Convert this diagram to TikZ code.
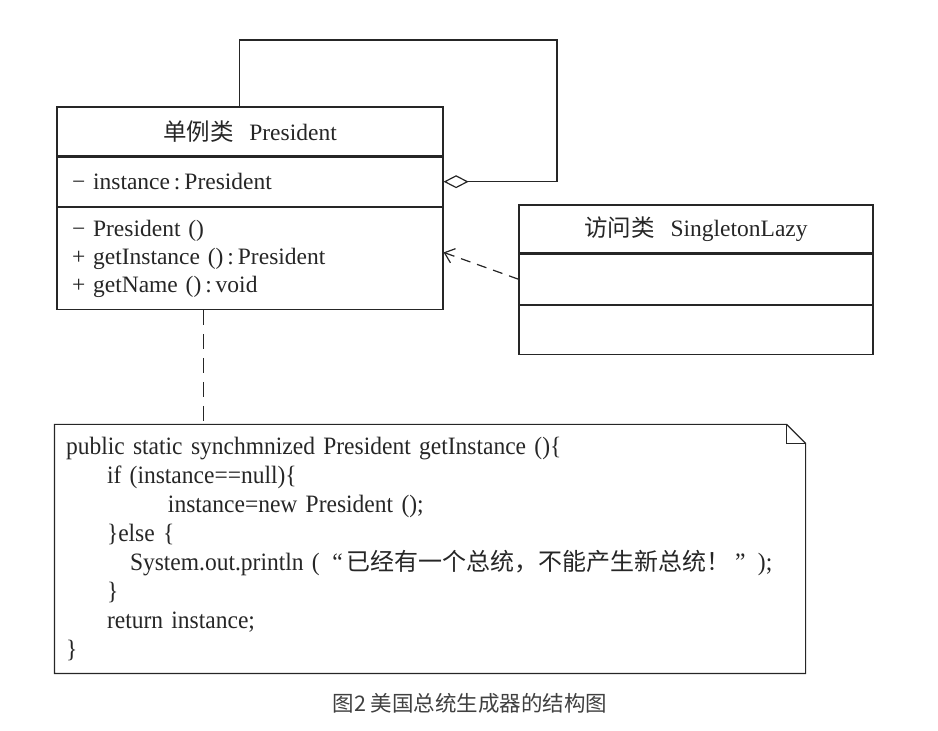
\documentclass[tikz,border=0pt]{standalone}
\usepackage{fontspec}
\setmainfont{Liberation Serif}
\newfontfamily\cjk{Noto Sans CJK SC}
\newfontfamily\codefont{Liberation Serif}[FakeStretch=0.94]
\usetikzlibrary{positioning,arrows.meta}

\begin{document}
\begin{tikzpicture}[x=1pt, y=1pt, line width=1.2pt, color=black!85,
    classpart/.style={draw, inner xsep=15pt, inner ysep=0pt, font=\fontsize{23.5}{28}\selectfont},
    pclass/.style={classpart, text width=356pt, minimum height=#1},
    sclass/.style={classpart, text width=324pt, minimum height=#1},
    depend/.style={dash pattern=on 10pt off 7pt, -{Straight Barb[length=9pt, width=15pt, line width=1.2pt]}},
    notelink/.style={dash pattern=on 15pt off 9pt},
    aggr/.style={-{Diamond[open, length=25pt, width=13pt, line width=1.2pt]}}]
  \useasboundingbox (0,0) rectangle (938,731);

  % singleton class
  \node[pclass=49pt, align=center] at (250,599.5) (pname) {{\cjk 单例类}\ \ President};
  \node[pclass=49pt, align=left, below=0pt of pname] (pattr) {− instance\,:\,President};
  \node[pclass=102pt, align=left, below=0pt of pattr] (pops) {− President ()\\+ getInstance ()\,:\,President\\+ getName ()\,:\,void};

  % access class
  \node[sclass=48pt, align=center] at (696,502) (sname) {{\cjk 访问类}\ \ SingletonLazy};
  \node[sclass=50pt, below=0pt of sname] (sattr) {};
  \node[sclass=49pt, below=0pt of sattr] (sops) {};

  % code note
  \node[inner xsep=11pt, inner ysep=0pt, text width=728pt, minimum height=248pt, align=left,
        font=\codefont\fontsize{25}{29}\selectfont] at (430,182) (note)
    {public static synchmnized President getInstance ()\{\\
     \hspace*{41pt}if (instance==null)\{\\
     \hspace*{102pt}instance=new President ();\\
     \hspace*{41pt}\}else \{\\
     \hspace*{64pt}System.out.println ( \,“\,{\cjk\fontsize{24}{29}\selectfont 已经有一个总统，不能产生新总统！}\,” \,);\\
     \hspace*{41pt}\}\\
     \hspace*{41pt}return instance;\\
     \}};
  \draw (note.north west) -- ([xshift=-19pt]note.north east) -- ([yshift=-19pt]note.north east)
        -- (note.south east) -- (note.south west) -- cycle;
  \draw ([xshift=-19pt]note.north east) -- ([xshift=-19pt, yshift=-19pt]note.north east)
        -- ([yshift=-19pt]note.north east);

  % connectors
  \coordinate (loopcorner) at (557,691);
  \draw[aggr] ([xshift=183pt]pname.north west) |- (loopcorner) |- (pattr.east);
  \draw[depend] (sattr.west) -- ([yshift=6pt]pops.east);
  \draw[notelink] ([xshift=147pt]pops.south west) -- ([xshift=149pt]note.north west);

  \node[font=\cjk\fontsize{21.5}{24}\selectfont, text=black!75] at (470,28) (caption) {图2 美国总统生成器的结构图};
\end{tikzpicture}
\end{document}
